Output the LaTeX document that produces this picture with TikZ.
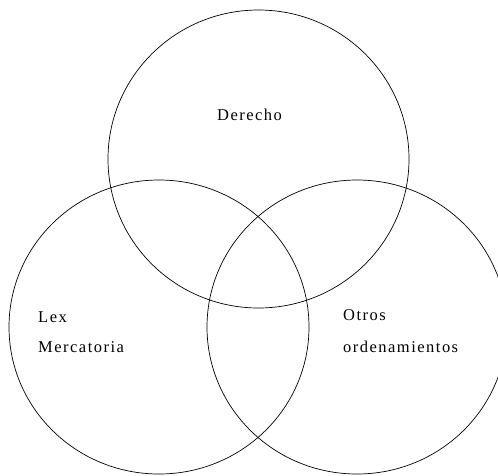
\documentclass[tikz,border=0pt]{standalone}
\usepackage{fontspec}
\setmainfont{Liberation Serif}
\begin{document}
\begin{tikzpicture}[x=1pt,y=-1pt,
  ring/.style={draw=black,line width=0.7pt},
  lbl/.style={inner sep=0pt,anchor=base west,font=\fontsize{16.5}{19}\selectfont\addfontfeature{LetterSpace=9}}]
\useasboundingbox (0,0) rectangle (498,475);
\draw[ring] (258.5,159) ellipse [x radius=150.5, y radius=149];
\draw[ring] (159,327) ellipse [x radius=150, y radius=147];
\draw[ring] (357,327) ellipse [x radius=150, y radius=147];
\node[lbl] (der) at (217,120) {Derecho};
\node[lbl] (lex) at (38,322) {Lex};
\node[lbl] (mer) at (38,352) {Mercatoria};
\node[lbl] (otr) at (343,320) {Otros};
\node[lbl] (ord) at (343,352) {ordenamientos};
\end{tikzpicture}
\end{document}
